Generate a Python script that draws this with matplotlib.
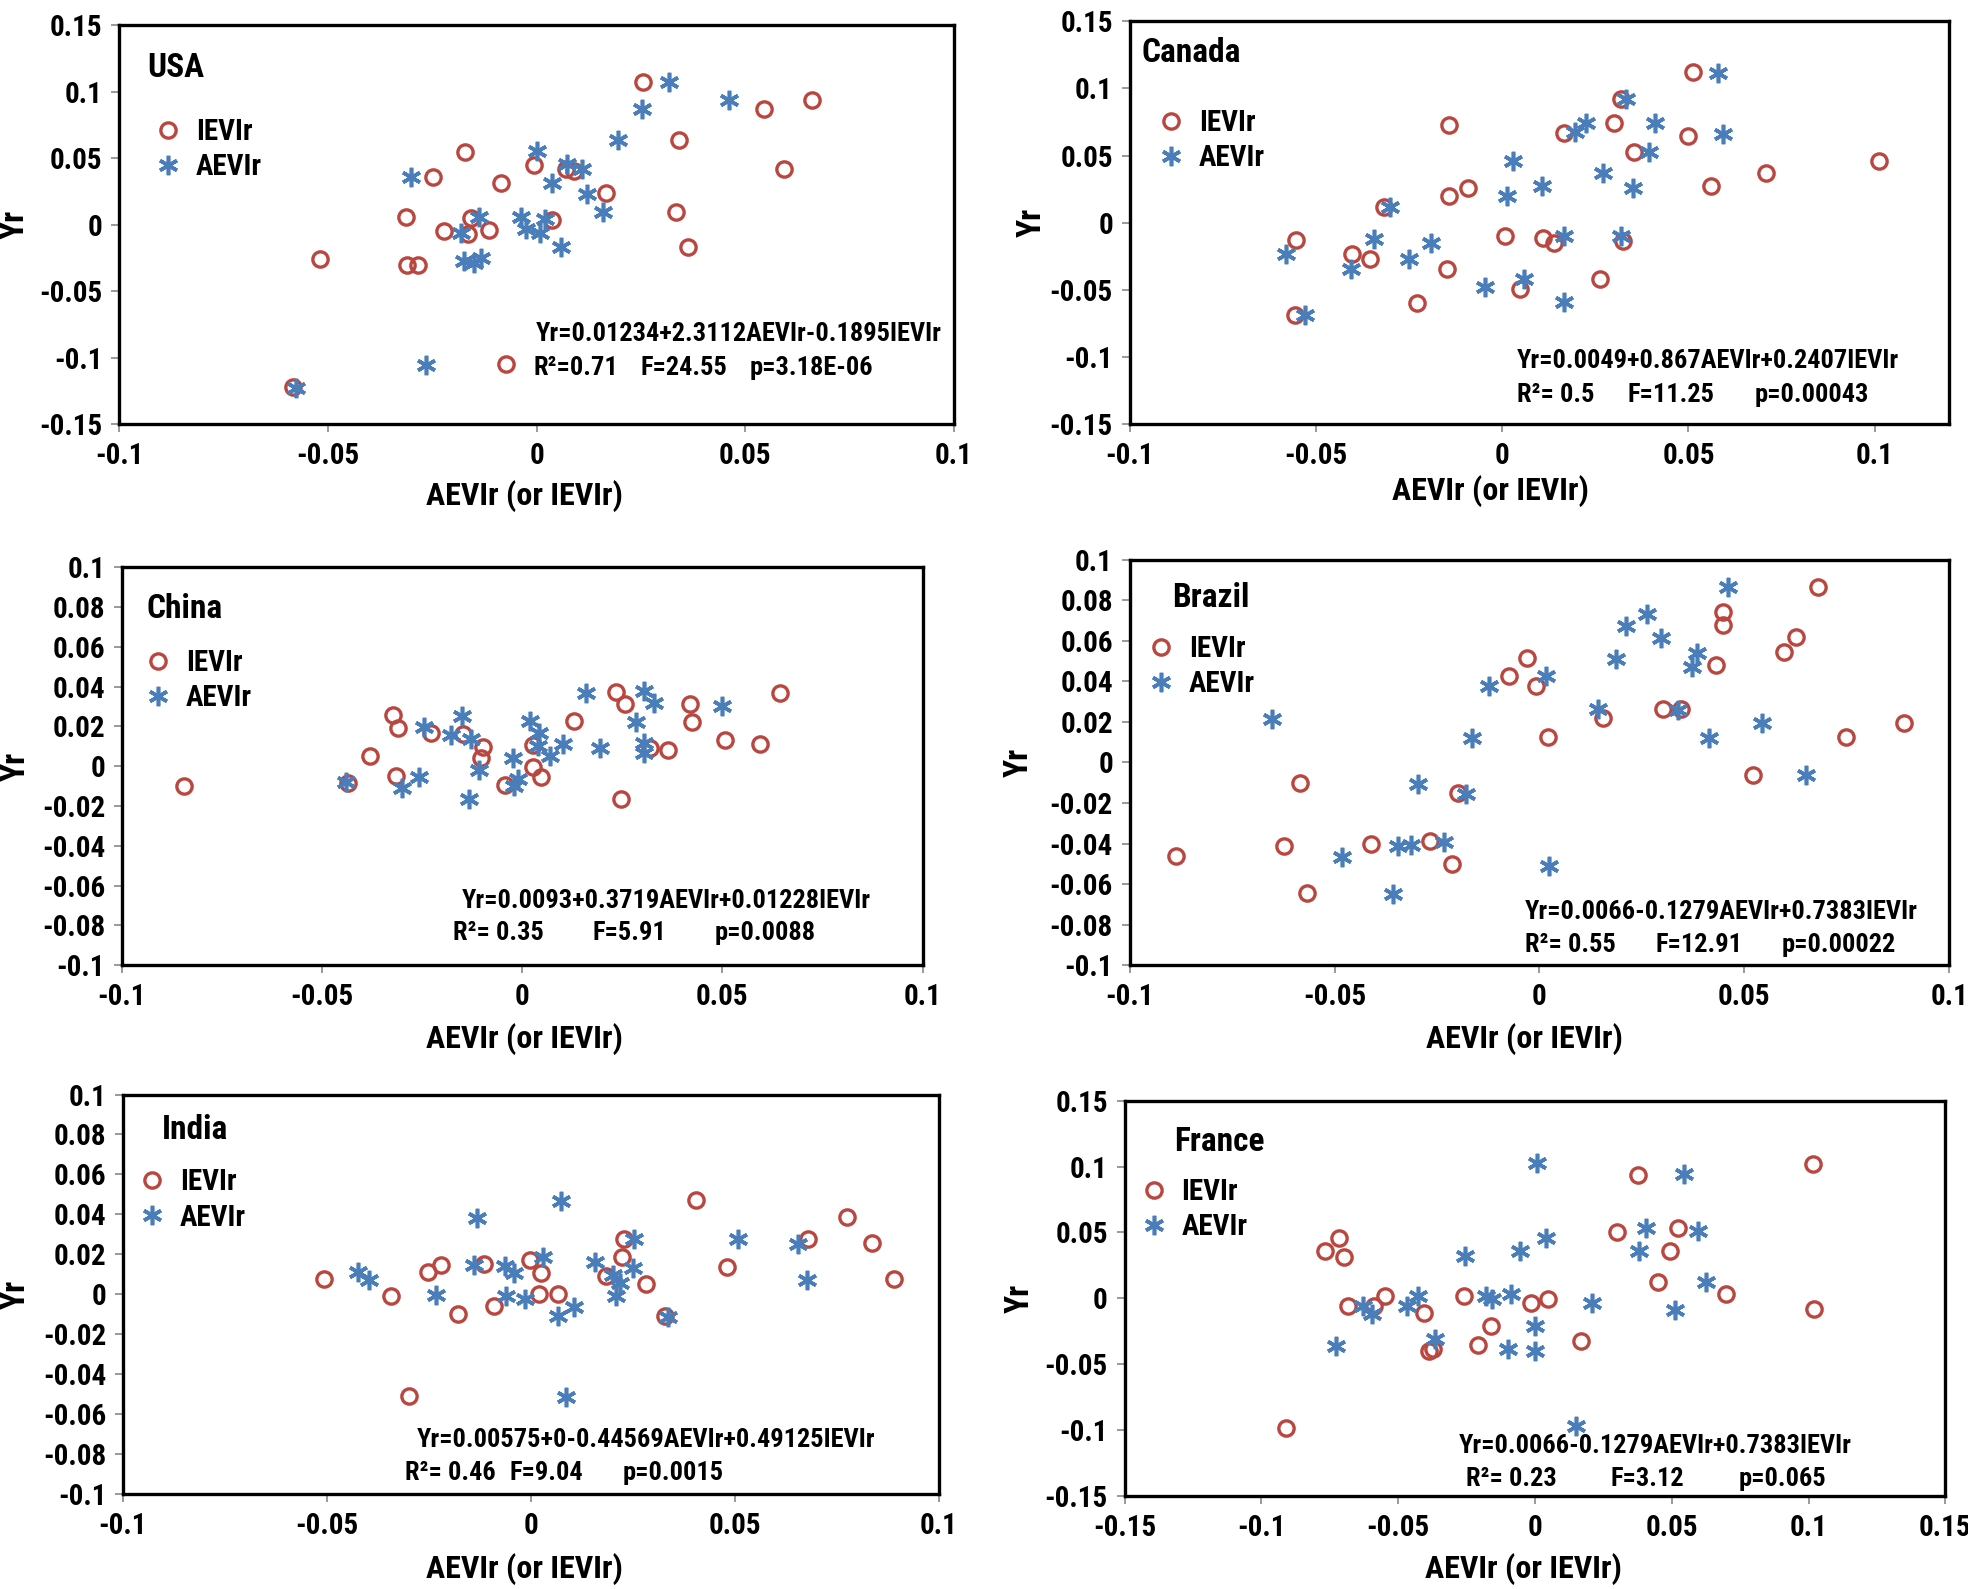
import numpy as np
import matplotlib
matplotlib.use('Agg')
import matplotlib.pyplot as plt
from matplotlib.ticker import FuncFormatter

plt.rcParams['font.family'] = ['Roboto Condensed', 'Liberation Sans Narrow', 'Liberation Sans', 'DejaVu Sans']
plt.rcParams['font.weight'] = 'bold'

RED = '#B9463F'
BLUE = '#4A7EBB'

# ---- USA ----
usa_iev_x = [0.0254, 0.0545, 0.066, 0.0341, 0.0594, -0.0172, -0.0005, -0.0247, -0.0085, 0.007, 0.009,
             0.0166, -0.0314, -0.0158, -0.0223, -0.0164, -0.0115, 0.0038, 0.0334, 0.0362, -0.0518,
             -0.031, -0.0283, -0.0584, -0.0073]
usa_iev_y = [0.107, 0.0867, 0.094, 0.064, 0.042, 0.055, 0.045, 0.036, 0.031, 0.042, 0.040,
             0.024, 0.0056, 0.005, -0.005, -0.007, -0.004, 0.0036, 0.0099, -0.0167, -0.0256,
             -0.030, -0.030, -0.1217, -0.105]
usa_aev_x = [0.0317, 0.046, 0.0253, 0.0194, 0.0, 0.0073, 0.011, 0.0038, 0.0122, 0.0158, -0.030,
             -0.0137, -0.0037, -0.0025, 0.0008, 0.002, 0.0058, -0.0175, -0.015, -0.0133, -0.018,
             -0.0264, -0.0577]
usa_aev_y = [0.107, 0.094, 0.0867, 0.064, 0.0555, 0.0457, 0.042, 0.031, 0.023, 0.0094, 0.036,
             0.0056, 0.0056, -0.003, -0.006, 0.004, -0.017, -0.027, -0.029, -0.025, -0.006,
             -0.1055, -0.1225]

# ---- Canada ----
can_iev_x = [0.0511, 0.0318, 0.0301, -0.0144, 0.0166, 0.0499, 0.0355, 0.1012, 0.0707, 0.056, -0.0091,
             -0.0144, -0.0318, 0.0008, 0.011, 0.014, 0.0325, -0.0553, -0.0403, -0.0355, -0.0149,
             0.0262, 0.0047, -0.0228, -0.0555]
can_iev_y = [0.1119, 0.092, 0.0746, 0.073, 0.067, 0.0646, 0.0524, 0.046, 0.0373, 0.0273, 0.026,
             0.020, 0.0114, -0.010, -0.011, -0.0147, -0.0137, -0.0129, -0.0234, -0.027, -0.0346,
             -0.042, -0.049, -0.0594, -0.0684]
can_aev_x = [0.0579, 0.0333, 0.041, 0.0225, 0.0195, 0.0592, 0.0393, 0.003, 0.0271, 0.0107, 0.0352,
             0.0014, -0.030, 0.0166, 0.0318, -0.0343, -0.019, -0.058, -0.025, -0.0406, 0.0059,
             -0.0047, 0.0166, -0.0528]
can_aev_y = [0.1114, 0.092, 0.0746, 0.074, 0.0674, 0.0659, 0.0524, 0.046, 0.0373, 0.0273, 0.026,
             0.020, 0.0114, -0.0097, -0.0097, -0.0124, -0.015, -0.0236, -0.027, -0.0346, -0.042,
             -0.0477, -0.059, -0.0684]

# ---- China ----
chn_iev_x = [0.0644, 0.0234, 0.0257, 0.0418, 0.0424, 0.0129, 0.0507, 0.0594, 0.032, 0.0363, -0.0323,
             -0.0309, -0.0229, -0.0148, -0.0097, -0.0104, -0.0379, 0.0027, 0.0027, 0.0047, -0.0042,
             -0.0316, -0.0436, -0.0845, 0.0246]
chn_iev_y = [0.0368, 0.0372, 0.0315, 0.0313, 0.0221, 0.0226, 0.0134, 0.0112, 0.0092, 0.0079, 0.0256,
             0.0192, 0.0167, 0.0162, 0.0095, 0.0042, 0.005, 0.0109, -0.0005, -0.0055, -0.0092,
             -0.005, -0.0084, -0.010, -0.0167]
chn_aev_x = [0.0159, 0.0304, 0.033, 0.0499, 0.0284, 0.002, -0.0151, -0.0245, -0.0179, -0.0128, 0.0042,
             0.0101, 0.0195, 0.0039, 0.007, 0.0304, 0.0304, -0.0023, -0.0109, -0.0011, -0.002,
             -0.0257, -0.0299, -0.044, -0.0133]
chn_aev_y = [0.0368, 0.0377, 0.0318, 0.0305, 0.0221, 0.0226, 0.0254, 0.0196, 0.0159, 0.0139, 0.0167,
             0.0114, 0.0092, 0.0104, 0.005, 0.0117, 0.0067, 0.0042, -0.0017, -0.0064, -0.010,
             -0.0055, -0.0109, -0.008, -0.0167]

# ---- Brazil ----
bra_iev_x = [0.0679, 0.0447, 0.0447, 0.0627, 0.0597, 0.0431, -0.0031, -0.0075, -0.0008, 0.0302, 0.0346,
             0.0156, 0.089, 0.0748, 0.002, 0.052, -0.0585, -0.020, -0.0266, -0.041, -0.0624,
             -0.0214, -0.0887, -0.0568]
bra_iev_y = [0.0865, 0.0741, 0.0678, 0.062, 0.0545, 0.0479, 0.0514, 0.0429, 0.0376, 0.0263, 0.0263,
             0.0219, 0.0197, 0.0124, 0.0124, -0.006, -0.0099, -0.0149, -0.0389, -0.0403, -0.0414,
             -0.0502, -0.0461, -0.0643]
bra_aev_x = [0.046, 0.0262, 0.0212, 0.0297, 0.0385, 0.0371, 0.0186, 0.0015, -0.0122, 0.0143, 0.0337,
             0.0543, 0.0414, -0.0165, -0.0653, 0.0651, -0.0296, -0.018, -0.0234, -0.0345, -0.0314,
             -0.0483, 0.0023, -0.0357]
bra_aev_y = [0.0865, 0.0732, 0.0671, 0.0613, 0.0542, 0.0472, 0.0512, 0.0426, 0.0376, 0.0263, 0.0257,
             0.0194, 0.0119, 0.0119, 0.0215, -0.0063, -0.0104, -0.0154, -0.0391, -0.0414, -0.0406,
             -0.0466, -0.051, -0.0651]

# ---- India ----
ind_iev_x = [0.0405, 0.0775, 0.068, 0.0837, 0.0228, 0.0224, 0.048, 0.089, 0.0282, 0.0185, -0.0002,
             0.0026, -0.0116, -0.0221, -0.0251, -0.0507, -0.0343, -0.0179, -0.009, 0.002, 0.0067,
             0.0328, -0.0299]
ind_iev_y = [0.047, 0.0387, 0.0277, 0.0254, 0.0277, 0.0185, 0.0136, 0.0077, 0.0052, 0.0092, 0.017,
             0.0106, 0.0151, 0.0148, 0.0111, 0.0077, -0.0008, -0.010, -0.0059, 0.0002, 0.0002,
             -0.0109, -0.0511]
ind_aev_x = [0.0075, -0.0132, 0.0254, 0.0507, 0.0656, 0.0029, 0.0158, -0.0139, -0.0063, -0.0041, -0.0425,
             -0.0397, 0.0251, 0.0201, 0.0219, -0.0233, -0.006, -0.0014, 0.0208, 0.0067, 0.0106,
             0.0336, 0.0676, 0.0087]
ind_aev_y = [0.0467, 0.038, 0.0274, 0.0274, 0.0249, 0.0185, 0.0161, 0.0148, 0.0139, 0.0106, 0.0111,
             0.0069, 0.0131, 0.0097, 0.0055, -0.0007, -0.0012, -0.0025, -0.0012, -0.0109, -0.0066,
             -0.0116, 0.0072, -0.0516]

# ---- France ----
fra_iev_x = [0.1017, 0.0377, 0.030, 0.0522, 0.0492, 0.0448, 0.070, 0.1021, -0.0716, -0.0767, -0.0698,
             -0.0548, -0.0682, -0.0589, -0.0259, -0.0404, -0.0016, 0.0046, -0.0162, -0.0208, 0.0169,
             -0.0386, -0.0374, -0.0911]
fra_iev_y = [0.1023, 0.0933, 0.0505, 0.0536, 0.0359, 0.0124, 0.003, -0.0078, 0.0455, 0.0359, 0.0316,
             0.0018, -0.0058, -0.0058, 0.0018, -0.0109, -0.0033, -0.0003, -0.021, -0.0356, -0.0323,
             -0.040, -0.0387, -0.098]
fra_aev_x = [0.0007, 0.0543, 0.0407, 0.0596, 0.0042, 0.0381, -0.0053, -0.0254, 0.0624, -0.0428, -0.0178,
             -0.0157, -0.0086, 0.0208, -0.0467, -0.0629, -0.0596, 0.0513, 0.0, -0.0365, -0.0728,
             -0.0099, 0.0, 0.015]
fra_aev_y = [0.1029, 0.094, 0.0531, 0.051, 0.046, 0.0359, 0.0359, 0.0321, 0.0124, 0.0018, 0.0018,
             -0.0008, 0.003, -0.0033, -0.0058, -0.0058, -0.0121, -0.0088, -0.021, -0.0311, -0.0361,
             -0.0387, -0.040, -0.0968]

panels = [
    dict(name='USA', rect=[0.0606, 0.733, 0.4241, 0.2512], ix=usa_iev_x, iy=usa_iev_y, ax=usa_aev_x, ay=usa_aev_y,
         xlim=(-0.1, 0.1), xt=(-0.1, 0.1), ylim=(-0.15, 0.15), ystep=0.05,
         title=(0.033, 0.893), leg=(0.041, 0.768),
         eq='Yr=0.01234+2.3112AEVIr-0.1895IEVIr', eqpos=(0.499, 0.226),
         stats=('R²=0.71', 'F=24.55', 'p=3.18E-06'), sx=(0.496, 0.624, 0.755), sy=0.142,
         ylab=-0.125, xlab=(0.486, -0.18)),
    dict(name='Canada', rect=[0.574, 0.733, 0.4165, 0.2536], ix=can_iev_x, iy=can_iev_y, ax=can_aev_x, ay=can_aev_y,
         xlim=(-0.1, 0.12), xt=(-0.1, 0.1), ylim=(-0.15, 0.15), ystep=0.05,
         title=(0.014, 0.922), leg=(0.033, 0.782),
         eq='Yr=0.0049+0.867AEVIr+0.2407IEVIr', eqpos=(0.472, 0.156),
         stats=('R²= 0.5', 'F=11.25', 'p=0.00043'), sx=(0.472, 0.608, 0.763), sy=0.072,
         ylab=-0.119, xlab=(0.44, -0.165)),
    dict(name='China', rect=[0.0619, 0.3926, 0.4069, 0.2504], ix=chn_iev_x, iy=chn_iev_y, ax=chn_aev_x, ay=chn_aev_y,
         xlim=(-0.1, 0.1), xt=(-0.1, 0.1), ylim=(-0.1, 0.1), ystep=0.02,
         title=(0.031, 0.896), leg=(0.027, 0.795),
         eq='Yr=0.0093+0.3719AEVIr+0.01228IEVIr', eqpos=(0.425, 0.161),
         stats=('R²= 0.35', 'F=5.91', 'p=0.0088'), sx=(0.414, 0.588, 0.74), sy=0.082,
         ylab=-0.133, xlab=(0.503, -0.186)),
    dict(name='Brazil', rect=[0.574, 0.3926, 0.4165, 0.2551], ix=bra_iev_x, iy=bra_iev_y, ax=bra_aev_x, ay=bra_aev_y,
         xlim=(-0.1, 0.1), xt=(-0.1, 0.1), ylim=(-0.1, 0.1), ystep=0.02,
         title=(0.052, 0.907), leg=(0.021, 0.815),
         eq='Yr=0.0066-0.1279AEVIr+0.7383IEVIr', eqpos=(0.482, 0.130),
         stats=('R²= 0.55', 'F=12.91', 'p=0.00022'), sx=(0.482, 0.641, 0.796), sy=0.05,
         ylab=-0.135, xlab=(0.482, -0.183)),
    dict(name='India', rect=[0.0625, 0.060, 0.4145, 0.2512], ix=ind_iev_x, iy=ind_iev_y, ax=ind_aev_x, ay=ind_aev_y,
         xlim=(-0.1, 0.1), xt=(-0.1, 0.1), ylim=(-0.1, 0.1), ystep=0.02,
         title=(0.048, 0.912), leg=(0.018, 0.815),
         eq='Yr=0.00575+0-0.44569AEVIr+0.49125IEVIr', eqpos=(0.36, 0.135),
         stats=('R²= 0.46', 'F=9.04', 'p=0.0015'), sx=(0.346, 0.474, 0.612), sy=0.053,
         ylab=-0.132, xlab=(0.492, -0.189)),
    dict(name='France', rect=[0.5714, 0.0585, 0.4171, 0.2488], ix=fra_iev_x, iy=fra_iev_y, ax=fra_aev_x, ay=fra_aev_y,
         xlim=(-0.15, 0.15), xt=(-0.15, 0.15), ylim=(-0.15, 0.15), ystep=0.05,
         title=(0.061, 0.895), leg=(0.018, 0.804),
         eq='Yr=0.0066-0.1279AEVIr+0.7383IEVIr', eqpos=(0.407, 0.127),
         stats=('R²= 0.23', 'F=3.12', 'p=0.065'), sx=(0.416, 0.592, 0.748), sy=0.044,
         ylab=-0.128, xlab=(0.486, -0.184)),
]


def fmt(v, pos=None):
    v = round(v, 4)
    if v == 0:
        return '0'
    return f'{v:g}'


fig = plt.figure(figsize=(19.68, 15.89), dpi=100)

for p in panels:
    ax = fig.add_axes(p['rect'])
    ax.plot(p['ix'], p['iy'], ls='none', marker='o', ms=11, mfc='none', mec=RED, mew=2.4, label='IEVIr')
    ax.plot(p['ax'], p['ay'], ls='none', marker=(6, 2, 0), ms=14, mec=BLUE, mew=2.6, label='AEVIr')

    ax.set_xlim(*p['xlim'])
    ax.set_ylim(*p['ylim'])
    ax.set_xticks(np.round(np.arange(p['xt'][0], p['xt'][1] + 1e-9, 0.05), 4))
    ax.set_yticks(np.round(np.arange(p['ylim'][0], p['ylim'][1] + 1e-9, p['ystep']), 4))
    ax.xaxis.set_major_formatter(FuncFormatter(fmt))
    ax.yaxis.set_major_formatter(FuncFormatter(fmt))
    ax.tick_params(direction='out', length=6, width=1.2, color='#888888', labelsize=21, pad=6)
    ax.tick_params(axis='x', pad=7)
    for s in ax.spines.values():
        s.set_linewidth(2.4)
        s.set_color('black')

    ax.set_xlabel('AEVIr (or IEVIr)', fontsize=23, fontweight='bold', va='center')
    ax.xaxis.set_label_coords(*p['xlab'])
    ax.set_ylabel('Yr', fontsize=24, fontweight='bold', va='center')
    ax.yaxis.set_label_coords(p['ylab'], 0.5)

    ax.text(p['title'][0], p['title'][1], p['name'], transform=ax.transAxes,
            fontsize=24, fontweight='bold', va='center', ha='left')
    ax.legend(loc='upper left', bbox_to_anchor=p['leg'], frameon=False, borderaxespad=0,
              borderpad=0, handlelength=1.0, handletextpad=0.45, labelspacing=0.25,
              prop={'size': 21, 'weight': 'bold'})
    ax.text(p['eqpos'][0], p['eqpos'][1], p['eq'], transform=ax.transAxes,
            fontsize=19, fontweight='bold', va='center', ha='left')
    for sx, st in zip(p['sx'], p['stats']):
        ax.text(sx, p['sy'], st, transform=ax.transAxes,
                fontsize=19, fontweight='bold', va='center', ha='left')

fig.savefig('out.png', dpi=100)
